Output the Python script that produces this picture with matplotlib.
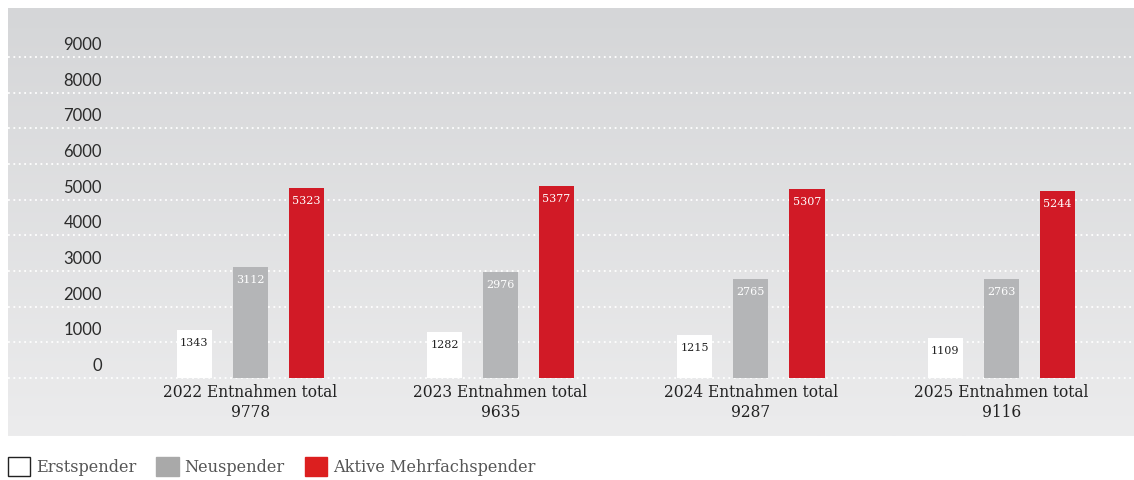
import numpy as np
import matplotlib.pyplot as plt
from matplotlib.patches import Patch
import matplotlib.transforms as mtransforms

# data
years = ['2022', '2023', '2024', '2025']
totals = [9778, 9635, 9287, 9116]
erstspender = [1343, 1282, 1215, 1109]
neuspender = [3112, 2976, 2765, 2763]
mehrfach = [5323, 5377, 5307, 5244]
yticks = [0, 1000, 2000, 3000, 4000, 5000, 6000, 7000, 8000, 9000]

series = [
    (erstspender, '#ffffff', '#222222', 'Erstspender'),
    (neuspender, '#b4b5b7', '#ffffff', 'Neuspender'),
    (mehrfach, '#d11a26', '#ffffff', 'Aktive Mehrfachspender'),
]

fig = plt.figure(figsize=(11.34, 4.8), dpi=100)
fig.patch.set_facecolor('white')
# panel: x 8..1134, y 8..436 px
ax = fig.add_axes([8 / 1134, 1 - 436 / 480, 1126 / 1134, 428 / 480])

# gray gradient background
grad = np.linspace(0, 1, 256).reshape(-1, 1)
top = np.array([213, 214, 216]) / 255
bot = np.array([236, 236, 237]) / 255
img = top + (bot - top) * grad[:, :, None]
ax.imshow(img, extent=[0, 1, 0, 1], transform=ax.transAxes, aspect='auto', zorder=0)

x = np.arange(len(years))
w = 0.14
off = 0.224

ax.set_xlim(-0.967, 3.53)
ax.set_ylim(-1626, 10373)

for yv in yticks:
    ax.axhline(yv, color='white', linestyle=(0, (1, 2)), linewidth=1.3, zorder=1)

trans = mtransforms.blended_transform_factory(ax.transAxes, ax.transData)
for yv in yticks:
    ax.annotate(str(yv), (0.0835, yv), xycoords=trans, xytext=(0, 4),
                textcoords='offset pixels', ha='right', va='bottom',
                fontsize=12, family='Lato', color='#2b2b2b')

for i, (vals, col, tcol, name) in enumerate(series):
    xs = x + (i - 1) * off
    ax.bar(xs, vals, width=w, color=col, zorder=2)
    for xv, v in zip(xs, vals):
        ax.annotate(str(v), (xv, v), xytext=(0, -13), textcoords='offset pixels',
                    ha='center', va='center', fontsize=8, family='DejaVu Serif',
                    color=tcol, zorder=3)

for xv, yr, t in zip(x, years, totals):
    ax.text(xv, -680, f'{yr} Entnahmen total\n{t}', ha='center', va='center',
            fontsize=11.2, family='DejaVu Serif', color='#222222', linespacing=1.2)

for s in ax.spines.values():
    s.set_visible(False)
ax.set_xticks([])
ax.set_yticks([])

handles = [Patch(facecolor='#ffffff', edgecolor='#222222', linewidth=1, label=series[0][3]),
           Patch(facecolor='#a9a9a9', edgecolor='#a9a9a9', label=series[1][3]),
           Patch(facecolor='#dc1f1f', edgecolor='#dc1f1f', label=series[2][3])]
leg = fig.legend(handles=handles, loc='lower left', bbox_to_anchor=(-0.003, -0.015), ncol=3,
                 frameon=False, prop={'family': 'DejaVu Serif', 'size': 11.6},
                 handlelength=1.4, handleheight=1.4, handletextpad=0.35, columnspacing=1.25,
                 borderaxespad=0.3)
for t in leg.get_texts():
    t.set_color('#555555')

fig.savefig('out.png', dpi=100)
